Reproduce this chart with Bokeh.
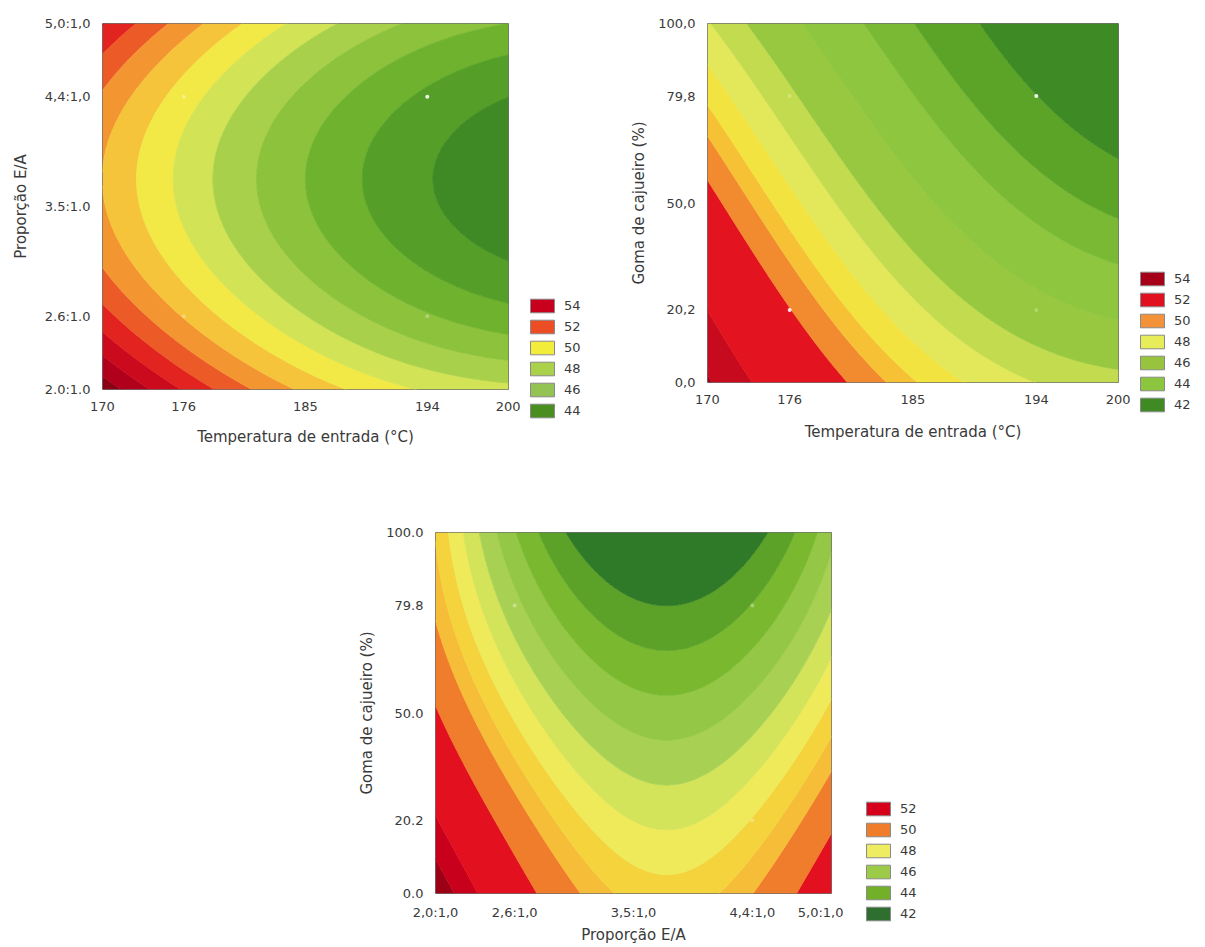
import numpy as np
from bokeh.plotting import figure
from bokeh.layouts import row, column, Spacer
from bokeh.models import FixedTicker, Legend, LegendItem, Range1d
from bokeh.embed import file_html
from bokeh.resources import INLINE

# ---------------- data ----------------
temp_ticks = [170, 176, 185, 194, 200]
temp_labels = ["170", "176", "185", "194", "200"]
prop_ticks = [2.0, 2.6, 3.5, 4.4, 5.0]
prop_labels_left = ["2.0:1.0", "2.6:1.0", "3.5:1.0", "4,4:1,0", "5,0:1,0"]
prop_labels_bottom = ["2,0:1,0", "2,6:1,0", "3,5:1,0", "4,4:1,0", "5,0:1,0"]
goma_ticks = [0.0, 20.2, 50.0, 79.8, 100.0]
goma_labels_top = ["0,0", "20,2", "50,0", "79,8", "100,0"]
goma_labels_bottom = ["0.0", "20.2", "50.0", "79.8", "100.0"]

# coded factor centres and steps (central composite design)
temp_center, temp_step = 185.0, 9.0
prop_center, prop_step = 3.5, 0.9
goma_center, goma_step = 50.0, 29.8

# response-surface coefficients (coded units), terms:
# [1, u, v, u^2, v^2, u*v, u^2*v, u*v^2, u^2*v^2]
coef_temp_prop = [46.081, -2.333, -0.65, 0.404, 1.30, 0.025, -0.03, -0.05, 0.06]
coef_temp_goma = [46.457, -2.769, -2.018, 0.521, 0.197, 0.112, -0.085, 0.104, 0.0]
coef_prop_goma = [44.557, -1.157, -2.417, 2.066, 0.016, 0.123, -0.22, -0.112, 0.20]

# contour levels and band colours
levels_1 = [30, 44, 45, 46, 47, 48, 49, 50, 51, 52, 53, 54, 55, 56, 70]
colors_1 = ["#3f8a24", "#559f28", "#6fb22e", "#8cc23c", "#a9d04a", "#d2e355",
            "#f2e846", "#f6c43a", "#f39632", "#ec5a27", "#e2231f", "#cc0a1e",
            "#b0001b", "#8a0015"]
levels_2 = [30, 42.5, 43.6, 44.6, 46.0, 47.4, 48.4, 49.4, 50.3, 51.0, 52.0, 55.0, 56.5, 70]
colors_2 = ["#3e8a24", "#5ca428", "#7ab934", "#8fc63f", "#97c840", "#c3db4f",
            "#e2e85a", "#f3e340", "#f7c136", "#f28a30", "#e3141f", "#c80a1e",
            "#a00018"]
levels_3 = [30, 42, 43, 44, 45, 46, 47, 48, 49, 50, 52, 56, 58, 80]
colors_3 = ["#2f7a28", "#5ca229", "#79b82f", "#94c745", "#a8d154", "#d3e35a",
            "#eeea5a", "#f5d33c", "#f6bd38", "#f07d2b", "#e3101f", "#c9001c",
            "#9c0016"]

# legends
legend_labels_1 = ["54", "52", "50", "48", "46", "44"]
legend_colors_1 = ["#c8001e", "#ec4d24", "#f2ec3a", "#a9d24a", "#93c352", "#4b8e20"]
legend_labels_2 = ["54", "52", "50", "48", "46", "44", "42"]
legend_colors_2 = ["#a60019", "#e0101f", "#f4923a", "#e6ed58", "#97c43c", "#8cc63f", "#3f8a22"]
legend_labels_3 = ["52", "50", "48", "46", "44", "42"]
legend_colors_3 = ["#d7001b", "#f07d2b", "#eeec60", "#9ccb48", "#72b02a", "#2e6e2e"]

# experimental (factorial) points
pts_1_x = [176, 194, 176, 194]
pts_1_y = [4.4, 4.4, 2.6, 2.6]
pts_1_a = [0.35, 0.9, 0.3, 0.3]
pts_2_x = [176, 194, 176, 194]
pts_2_y = [20.2, 79.8, 79.8, 20.2]
pts_2_a = [0.9, 0.9, 0.25, 0.25]
pts_3_x = [2.6, 4.4, 4.4, 2.6]
pts_3_y = [79.8, 79.8, 20.2, 20.2]
pts_3_a = [0.35, 0.35, 0.3, 0.0]

FONT = "DejaVu Sans"


def surface(coef, u, v):
    terms = [np.ones_like(u), u, v, u * u, v * v, u * v, u * u * v, u * v * v, u * u * v * v]
    return sum(c * t for c, t in zip(coef, terms))


def key(t):
    return int(t) if float(t).is_integer() else t


def panel(xr, yr, xt, xl, yt, yl, xc, xs, yc, ys, coef, levels, colors,
          xtitle, ytitle, fw, fh, bl, bt, bb, ystand, xlab_stand, xstand, px, py, pa):
    p = figure(frame_width=fw, frame_height=fh, min_border_left=bl, min_border_right=12,
               min_border_top=bt, min_border_bottom=bb,
               x_range=Range1d(*xr), y_range=Range1d(*yr),
               toolbar_location=None, output_backend="svg",
               background_fill_color="white", border_fill_color="white")
    gx = np.linspace(xr[0], xr[1], 301)
    gy = np.linspace(yr[0], yr[1], 301)
    X, Y = np.meshgrid(gx, gy)
    Z = surface(coef, (X - xc) / xs, (Y - yc) / ys)
    line_cols = [colors[0]] + list(colors)
    p.contour(gx, gy, Z, levels, fill_color=colors, line_color=line_cols, line_width=1)
    p.scatter(px, py, size=4, fill_color="white", line_color=None, fill_alpha=pa)

    p.xaxis.ticker = FixedTicker(ticks=[key(t) for t in xt])
    p.yaxis.ticker = FixedTicker(ticks=[key(t) for t in yt])
    p.xaxis.major_label_overrides = {key(t): l for t, l in zip(xt, xl)}
    p.yaxis.major_label_overrides = {key(t): l for t, l in zip(yt, yl)}
    p.xaxis.axis_label = xtitle
    p.yaxis.axis_label = ytitle
    for ax in (p.xaxis, p.yaxis):
        ax.axis_line_color = None
        ax.major_tick_line_color = None
        ax.minor_tick_line_color = None
        ax.major_label_text_font = FONT
        ax.major_label_text_font_size = "13px"
        ax.major_label_text_color = "#3a3a3a"
        ax.axis_label_text_font = FONT
        ax.axis_label_text_font_size = "15px"
        ax.axis_label_text_font_style = "normal"
        ax.axis_label_text_color = "#3a3a3a"
    p.xaxis.major_label_standoff = xlab_stand
    p.yaxis.major_label_standoff = 6
    p.xaxis.axis_label_standoff = xstand
    p.yaxis.axis_label_standoff = ystand
    p.grid.visible = False
    p.outline_line_color = "#707070"
    p.outline_line_width = 1
    return p


def legend_fig(labels, cols, h):
    f = figure(width=66, height=h, min_border=0, x_range=Range1d(0, 1), y_range=Range1d(0, 1),
               toolbar_location=None, output_backend="svg", outline_line_color=None,
               background_fill_color="white", border_fill_color="white")
    f.axis.visible = False
    f.grid.visible = False
    items = []
    for lab, c in zip(labels, cols):
        # proxy glyph kept outside the visible range; only its legend swatch shows
        r = f.quad(left=[5], right=[6], top=[6], bottom=[5], fill_color=c, line_color="#8a8a8a")
        items.append(LegendItem(label=lab, renderers=[r]))
    lg = Legend(items=items, location="top_left", padding=0, margin=0, spacing=4,
                glyph_width=30, glyph_height=17, label_height=17, label_standoff=7,
                label_text_font=FONT, label_text_font_size="13px", label_text_color="#3a3a3a",
                border_line_color=None, background_fill_alpha=0)
    f.add_layout(lg, "center")
    return f


p1 = panel((170, 200), (2.0, 5.0), temp_ticks, temp_labels, prop_ticks, prop_labels_left,
           temp_center, temp_step, prop_center, prop_step, coef_temp_prop, levels_1, colors_1,
           "Temperatura de entrada (°C)", "Proporção E/A",
           406, 366, 102, 23, 71, 12, 6, 14, pts_1_x, pts_1_y, pts_1_a)
p2 = panel((170, 200), (0.0, 100.0), temp_ticks, temp_labels, goma_ticks, goma_labels_top,
           temp_center, temp_step, goma_center, goma_step, coef_temp_goma, levels_2, colors_2,
           "Temperatura de entrada (°C)", "Goma de cajueiro (%)",
           411, 359, 114, 23, 78, 7, 6, 16, pts_2_x, pts_2_y, pts_2_a)
p3 = panel((2.0, 5.0), (0.0, 100.0), prop_ticks, prop_labels_bottom, goma_ticks, goma_labels_bottom,
           prop_center, prop_step, goma_center, goma_step, coef_prop_goma, levels_3, colors_3,
           "Proporção E/A", "Goma de cajueiro (%)",
           396, 361, 100, 72, 54, 7, 5, 3, pts_3_x, pts_3_y, pts_3_a)

leg1 = legend_fig(legend_labels_1, legend_colors_1, 126)
leg2 = legend_fig(legend_labels_2, legend_colors_2, 147)
leg3 = legend_fig(legend_labels_3, legend_colors_3, 126)

row1 = row(p1, row(Spacer(width=7), column(Spacer(height=297), leg1)),
           p2, row(Spacer(width=7), column(Spacer(height=270), leg2)))
row2 = row(Spacer(width=335, height=487), p3,
           row(Spacer(width=20), column(Spacer(height=340), leg3)))
layout = column(row1, row2)

open("out.html", "w").write(file_html(layout, INLINE))
